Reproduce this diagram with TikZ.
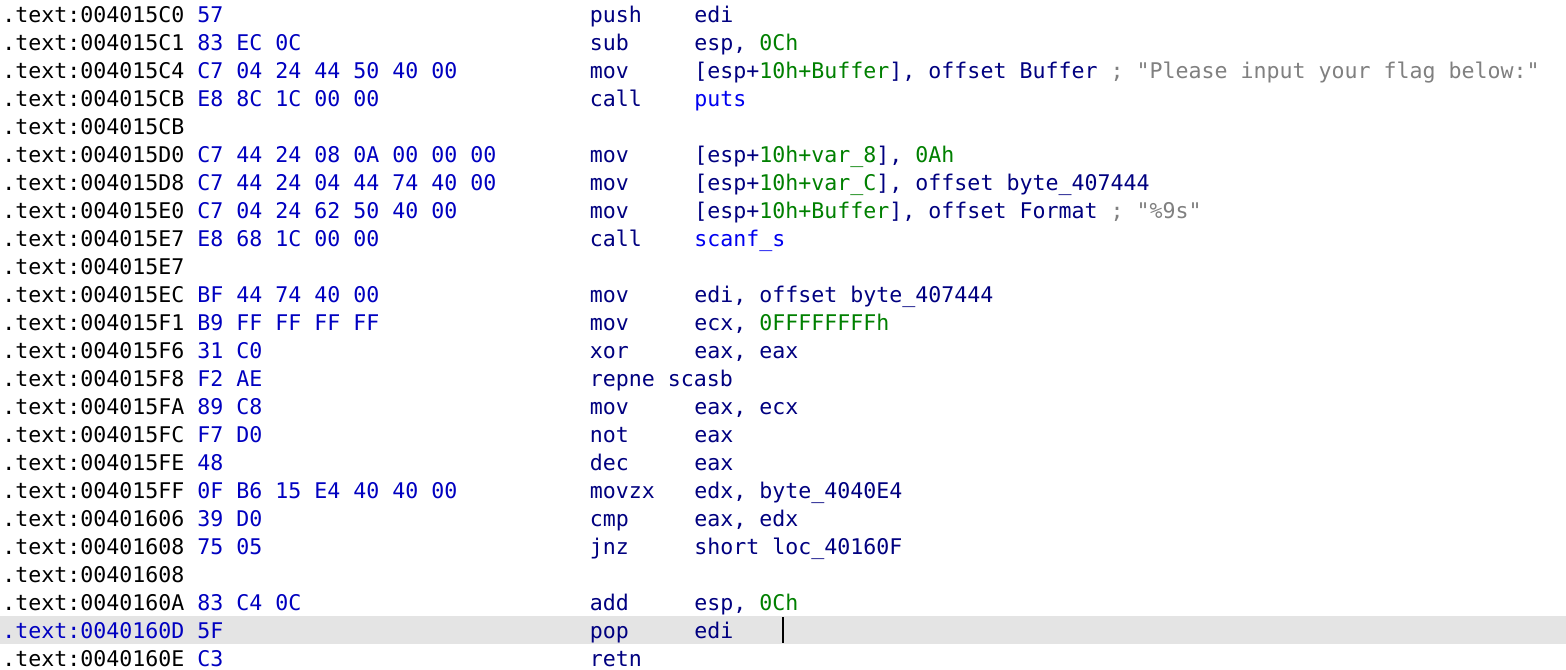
\documentclass[tikz,border=0pt]{standalone}
\usepackage{fontspec}
\setmonofont{DejaVu Sans Mono}
\definecolor{idaaddr}{HTML}{000000}
\definecolor{idabytes}{HTML}{0000C0}
\definecolor{idacode}{HTML}{000080}
\definecolor{idanum}{HTML}{008000}
\definecolor{idaname}{HTML}{0000F0}
\definecolor{idacmt}{HTML}{808080}
\definecolor{idaline}{HTML}{E4E4E4}

\newcommand{\vnum}[1]{\textcolor{idanum}{#1}}
\newcommand{\vcmt}[1]{\textcolor{idacmt}{#1}}
\newcommand{\vname}[1]{\textcolor{idaname}{#1}}

\tikzset{
  listing/.style={inner sep=0pt, anchor=base west, font=\ttfamily\fontsize{10.8pt}{14pt}\selectfont},
  addr/.style={listing, text=idaaddr},
  opbytes/.style={listing, text=idabytes},
  instr/.style={listing, text=idacode},
}

\begin{document}
\begin{tikzpicture}[x=0.5pt, y=-0.5pt]
      % Canvas and the highlighted line
      \fill[white] (0,0) rectangle (1566,669);
      \useasboundingbox (0,0) rectangle (1566,669);
      \fill[idaline] (0,616) rectangle (1566,644);

      % Address column
      \node[addr] (a1) at (2,22) {.text:004015C0};
      \node[addr] (a2) at (2,50) {.text:004015C1};
      \node[addr] (a3) at (2,78) {.text:004015C4};
      \node[addr] (a4) at (2,106) {.text:004015CB};
      \node[addr] (a5) at (2,134) {.text:004015CB};
      \node[addr] (a6) at (2,162) {.text:004015D0};
      \node[addr] (a7) at (2,190) {.text:004015D8};
      \node[addr] (a8) at (2,218) {.text:004015E0};
      \node[addr] (a9) at (2,246) {.text:004015E7};
      \node[addr] (a10) at (2,274) {.text:004015E7};
      \node[addr] (a11) at (2,302) {.text:004015EC};
      \node[addr] (a12) at (2,330) {.text:004015F1};
      \node[addr] (a13) at (2,358) {.text:004015F6};
      \node[addr] (a14) at (2,386) {.text:004015F8};
      \node[addr] (a15) at (2,414) {.text:004015FA};
      \node[addr] (a16) at (2,442) {.text:004015FC};
      \node[addr] (a17) at (2,470) {.text:004015FE};
      \node[addr] (a18) at (2,498) {.text:004015FF};
      \node[addr] (a19) at (2,526) {.text:00401606};
      \node[addr] (a20) at (2,554) {.text:00401608};
      \node[addr] (a21) at (2,582) {.text:00401608};
      \node[addr] (a22) at (2,610) {.text:0040160A};
      \node[addr, text=idabytes] (a23) at (2,638) {.text:0040160D};
      \node[addr] (a24) at (2,666) {.text:0040160E};

      % Opcode bytes
      \node[opbytes] (b1) at (197,22) {57};
      \node[opbytes] (b2) at (197,50) {83 EC 0C};
      \node[opbytes] (b3) at (197,78) {C7 04 24 44 50 40 00};
      \node[opbytes] (b4) at (197,106) {E8 8C 1C 00 00};
      \node[opbytes] (b6) at (197,162) {C7 44 24 08 0A 00 00 00};
      \node[opbytes] (b7) at (197,190) {C7 44 24 04 44 74 40 00};
      \node[opbytes] (b8) at (197,218) {C7 04 24 62 50 40 00};
      \node[opbytes] (b9) at (197,246) {E8 68 1C 00 00};
      \node[opbytes] (b11) at (197,302) {BF 44 74 40 00};
      \node[opbytes] (b12) at (197,330) {B9 FF FF FF FF};
      \node[opbytes] (b13) at (197,358) {31 C0};
      \node[opbytes] (b14) at (197,386) {F2 AE};
      \node[opbytes] (b15) at (197,414) {89 C8};
      \node[opbytes] (b16) at (197,442) {F7 D0};
      \node[opbytes] (b17) at (197,470) {48};
      \node[opbytes] (b18) at (197,498) {0F B6 15 E4 40 40 00};
      \node[opbytes] (b19) at (197,526) {39 D0};
      \node[opbytes] (b20) at (197,554) {75 05};
      \node[opbytes] (b22) at (197,610) {83 C4 0C};
      \node[opbytes] (b23) at (197,638) {5F};
      \node[opbytes] (b24) at (197,666) {C3};

      % Mnemonics
      \node[instr] (m1) at (589.5,22) {push};
      \node[instr] (m2) at (589.5,50) {sub};
      \node[instr] (m3) at (589.5,78) {mov};
      \node[instr] (m4) at (589.5,106) {call};
      \node[instr] (m6) at (589.5,162) {mov};
      \node[instr] (m7) at (589.5,190) {mov};
      \node[instr] (m8) at (589.5,218) {mov};
      \node[instr] (m9) at (589.5,246) {call};
      \node[instr] (m11) at (589.5,302) {mov};
      \node[instr] (m12) at (589.5,330) {mov};
      \node[instr] (m13) at (589.5,358) {xor};
      \node[instr] (m14) at (589.5,386) {repne scasb};
      \node[instr] (m15) at (589.5,414) {mov};
      \node[instr] (m16) at (589.5,442) {not};
      \node[instr] (m17) at (589.5,470) {dec};
      \node[instr] (m18) at (589.5,498) {movzx};
      \node[instr] (m19) at (589.5,526) {cmp};
      \node[instr] (m20) at (589.5,554) {jnz};
      \node[instr] (m22) at (589.5,610) {add};
      \node[instr] (m23) at (589.5,638) {pop};
      \node[instr] (m24) at (589.5,666) {retn};

      % Operands and comments
      \node[instr] (o1) at (694,22) {edi};
      \node[instr] (o2) at (694,50) {esp, \vnum{0Ch}};
      \node[instr] (o3) at (694,78) {[esp+\vnum{10h+Buffer}], offset Buffer \vcmt{; "Please input your flag below:"}};
      \node[instr] (o4) at (694,106) {\vname{puts}};
      \node[instr] (o6) at (694,162) {[esp+\vnum{10h+var\_8}], \vnum{0Ah}};
      \node[instr] (o7) at (694,190) {[esp+\vnum{10h+var\_C}], offset byte\_407444};
      \node[instr] (o8) at (694,218) {[esp+\vnum{10h+Buffer}], offset Format \vcmt{; "\%9s"}};
      \node[instr] (o9) at (694,246) {\vname{scanf\_s}};
      \node[instr] (o11) at (694,302) {edi, offset byte\_407444};
      \node[instr] (o12) at (694,330) {ecx, \vnum{0FFFFFFFFh}};
      \node[instr] (o13) at (694,358) {eax, eax};
      \node[instr] (o15) at (694,414) {eax, ecx};
      \node[instr] (o16) at (694,442) {eax};
      \node[instr] (o17) at (694,470) {eax};
      \node[instr] (o18) at (694,498) {edx, byte\_4040E4};
      \node[instr] (o19) at (694,526) {eax, edx};
      \node[instr] (o20) at (694,554) {short loc\_40160F};
      \node[instr] (o22) at (694,610) {esp, \vnum{0Ch}};
      \node[instr] (o23) at (694,638) {edi};

      % Text cursor
      \draw[line width=1.2pt] (783,617) -- (783,643);
\end{tikzpicture}
\end{document}
